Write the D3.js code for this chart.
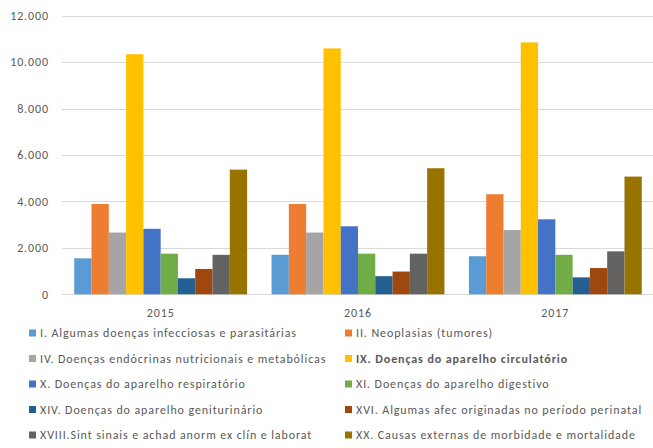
<!DOCTYPE html>
<html>
<head>
<meta charset="utf-8">
<script src="https://cdn.jsdelivr.net/npm/d3@7"></script>
<style>
  body { margin: 0; background: #fff; }
  text { font-family: Carlito, Calibri, "Open Sans", "Noto Sans", sans-serif; fill: #595959; letter-spacing: 0.9px; }
</style>
</head>
<body>
<svg id="chart"></svg>
<script>
const width = 653, height = 448;

const years = ["2015", "2016", "2017"];
const series = [
  "I. Algumas doenças infecciosas e parasitárias",
  "II. Neoplasias (tumores)",
  "IV. Doenças endócrinas nutricionais e metabólicas",
  "IX. Doenças do aparelho circulatório",
  "X. Doenças do aparelho respiratório",
  "XI. Doenças do aparelho digestivo",
  "XIV. Doenças do aparelho geniturinário",
  "XVI. Algumas afec originadas no período perinatal",
  "XVIII.Sint sinais e achad anorm ex clín e laborat",
  "XX. Causas externas de morbidade e mortalidade"
];
const colors = ["#5B9BD5", "#ED7D31", "#A5A5A5", "#FFC000", "#4472C4", "#70AD47", "#255E91", "#9E480E", "#636363", "#997300"];

// values per year, one entry per series
const values2015 = [1550, 3890, 2660, 10340, 2820, 1750, 690, 1090, 1700, 5370];
const values2016 = [1700, 3890, 2660, 10590, 2930, 1750, 780, 980, 1750, 5430];
const values2017 = [1640, 4310, 2770, 10850, 3230, 1700, 730, 1130, 1850, 5070];
const yTicks = [0, 2000, 4000, 6000, 8000, 10000, 12000];

const valuesByYear = { "2015": values2015, "2016": values2016, "2017": values2017 };

const locale = d3.formatLocale({ decimal: ",", thousands: ".", grouping: [3], currency: ["R$", ""] });
const fmt = locale.format(",");

const margin = { left: 62, right: 0, top: 16, bottom: 154 };

const svg = d3.select("#chart").attr("width", width).attr("height", height);

const x0 = d3.scaleBand()
  .domain(years)
  .range([margin.left, 654])
  .padding(0);

const gapFrac = 0.062; // half-gap on each side of a group
const x1 = d3.scaleBand()
  .domain(d3.range(series.length))
  .range([x0.bandwidth() * gapFrac, x0.bandwidth() * (1 - gapFrac)])
  .padding(0);

const y = d3.scaleLinear()
  .domain([0, 12000])
  .range([294.3, 15.7]);

// gridlines
svg.append("g")
  .selectAll("line")
  .data(yTicks)
  .enter()
  .append("line")
  .attr("x1", margin.left)
  .attr("x2", 653)
  .attr("y1", d => Math.round(y(d)) + 0.5)
  .attr("y2", d => Math.round(y(d)) + 0.5)
  .attr("stroke", "#d9d9d9")
  .attr("stroke-width", 1);

// y labels
svg.append("g")
  .selectAll("text")
  .data(yTicks)
  .enter()
  .append("text")
  .attr("x", 49)
  .attr("y", d => y(d))
  .attr("dy", "0.35em")
  .attr("text-anchor", "end")
  .style("font-size", "12px")
  .text(d => fmt(d));

// bars
const groups = svg.append("g")
  .selectAll("g")
  .data(years)
  .enter()
  .append("g")
  .attr("transform", d => `translate(${x0(d)},0)`);

groups.selectAll("rect")
  .data(yr => valuesByYear[yr].map((v, i) => ({ v, i })))
  .enter()
  .append("rect")
  .attr("x", d => x1(d.i))
  .attr("width", x1.bandwidth())
  .attr("y", d => y(d.v))
  .attr("height", d => y(0) - y(d.v))
  .attr("fill", d => colors[d.i]);

// x labels
svg.append("g")
  .selectAll("text")
  .data(years)
  .enter()
  .append("text")
  .attr("x", d => x0(d) + x0.bandwidth() / 2)
  .attr("y", 313)
  .attr("dy", "0.35em")
  .attr("text-anchor", "middle")
  .style("font-size", "12px")
  .text(d => d);

// legend, two columns
const legendCols = [29, 345];
const legendRow0 = 333, legendStep = 25.5;
const legend = svg.append("g")
  .selectAll("g")
  .data(series)
  .enter()
  .append("g")
  .attr("transform", (d, i) => `translate(${legendCols[i % 2]},${legendRow0 + Math.floor(i / 2) * legendStep})`);

legend.append("rect")
  .attr("x", 0)
  .attr("y", -3.5)
  .attr("width", 7)
  .attr("height", 7)
  .attr("fill", (d, i) => colors[i]);

legend.append("text")
  .attr("x", 11)
  .attr("y", 0)
  .attr("dy", "0.35em")
  .style("font-size", "12px")
  .style("font-weight", (d, i) => i === 3 ? "bold" : "normal")
  .text(d => d);
</script>
</body>
</html>
